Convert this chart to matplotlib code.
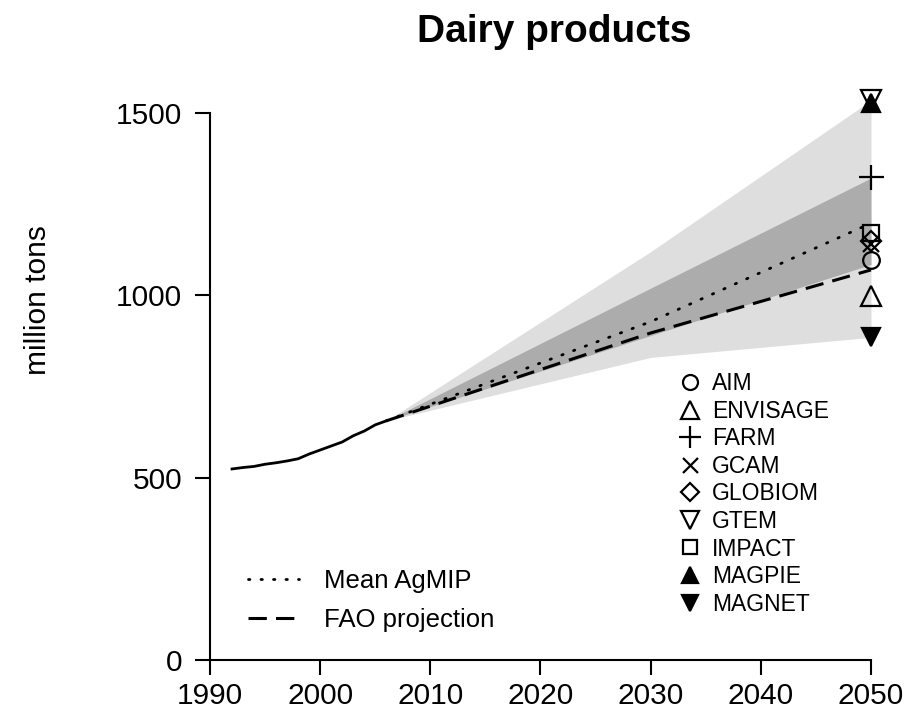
import matplotlib
matplotlib.use("Agg")
import matplotlib.pyplot as plt
from matplotlib.lines import Line2D

plt.rcParams["font.family"] = ["Liberation Sans", "DejaVu Sans"]

# historical FAO series
hist_years = [1992, 1993, 1994, 1995, 1996, 1997, 1998, 1999, 2000,
              2001, 2002, 2003, 2004, 2005, 2006]
hist_vals = [524, 528, 531, 537, 541, 546, 552, 565, 576,
             587, 598, 615, 628, 645, 656]

# projection envelopes and means
proj_years = [2006, 2030, 2050]
range_lo = [656, 830, 885]
range_hi = [656, 1120, 1535]
inner_lo = [656, 890, 1085]
inner_hi = [656, 1020, 1322]
mean_agmip = [656, 928, 1198]
fao_proj = [656, 897, 1070]

# individual model results for 2050
models = ["AIM", "ENVISAGE", "FARM", "GCAM", "GLOBIOM",
          "GTEM", "IMPACT", "MAGPIE", "MAGNET"]
model_2050 = [1097, 998, 1325, 1140, 1150, 1537, 1172, 1527, 886]
model_marker = ["o", "^", "+", "x", "D", "v", "s", "^", "v"]
model_filled = [False, False, False, False, False, False, False, True, True]
model_size = [12, 14, 18, 12, 10, 14, 11, 13, 13]

DOT = (0, (0.5, 4.0))
DASH = (0, (6, 3))

fig = plt.figure(figsize=(9.07, 7.2), dpi=100)
ax = fig.add_axes([210 / 907, 60 / 720, 688.5 / 907, 576 / 720])

ax.fill_between(proj_years, range_lo, range_hi, color="#dedede", lw=0)
ax.fill_between(proj_years, inner_lo, inner_hi, color="#acacac", lw=0)
ax.plot(hist_years, hist_vals, color="black", lw=2.0)
ax.plot(proj_years, mean_agmip, color="black", lw=2.0, ls=DOT,
        dash_capstyle="round")
ax.plot(proj_years, fao_proj, color="black", lw=2.2, ls=DASH)

for v, mk, filled, ms in zip(model_2050, model_marker, model_filled, model_size):
    ax.plot([2050], [v], marker=mk, ms=ms,
            mfc="black" if filled else "none", mec="black", mew=1.6,
            ls="none", clip_on=False, zorder=5)

ax.set_xlim(1990, 2052.5)
ax.set_ylim(0, 1580)
for side in ("top", "right"):
    ax.spines[side].set_visible(False)
ax.spines["left"].set_bounds(0, 1500)
ax.spines["bottom"].set_bounds(1990, 2050)
for side in ("left", "bottom"):
    ax.spines[side].set_linewidth(1.5)
ax.set_xticks(range(1990, 2051, 10))
ax.set_yticks([0, 500, 1000, 1500])
ax.tick_params(axis="both", direction="out", length=11, width=1.5,
               labelsize=21.5)
ax.tick_params(axis="x", pad=5)
ax.tick_params(axis="y", pad=9)
ax.set_ylabel("million tons", fontsize=21.5)
ax.yaxis.set_label_coords(-0.2295, 0.625)
ax.set_title("Dairy products", fontsize=28, fontweight="bold", pad=30)

model_handles = [
    Line2D([], [], marker=mk, ls="none", ms=ms * 0.9,
           mfc="black" if filled else "none", mec="black", mew=1.6)
    for mk, filled, ms in zip(model_marker, model_filled, model_size)
]
leg1 = ax.legend(model_handles, models, loc="upper left",
                 bbox_to_anchor=(679 / 907, (720 - 372) / 720),
                 bbox_transform=fig.transFigure, frameon=False, fontsize=16.5,
                 handlelength=1.0, handletextpad=0.45, labelspacing=0.2,
                 borderpad=0, borderaxespad=0)
ax.add_artist(leg1)

line_handles = [
    Line2D([], [], color="black", lw=2.0, ls=DOT, dash_capstyle="round"),
    Line2D([], [], color="black", lw=2.2, ls=DASH),
]
ax.legend(line_handles, ["Mean AgMIP", "FAO projection"], loc="upper left",
          bbox_to_anchor=(248 / 907, (720 - 569) / 720),
          bbox_transform=fig.transFigure, frameon=False, fontsize=18.5,
          handlelength=2.0, handletextpad=0.95, labelspacing=0.6,
          borderpad=0, borderaxespad=0)

fig.savefig("out.png", dpi=100)
